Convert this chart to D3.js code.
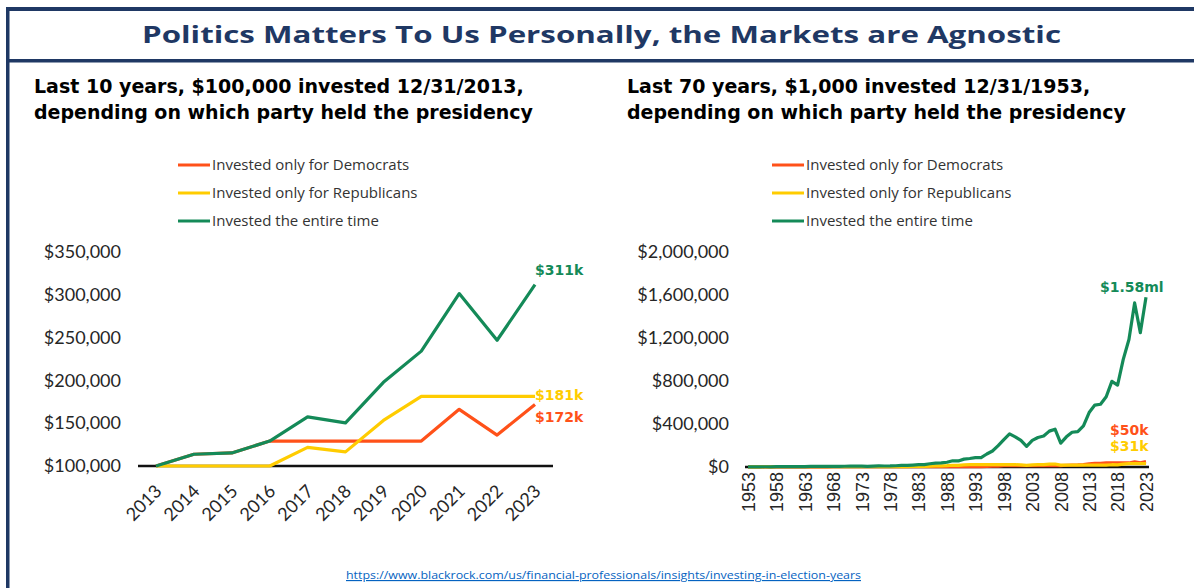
<!DOCTYPE html>
<html>
<head>
<meta charset="utf-8">
<script src="https://cdn.jsdelivr.net/npm/d3@7"></script>
<style>
body { margin: 0; background: #fff; }
svg { display: block; }
.ylab text { font-family: Lato, sans-serif; font-size: 18px; fill: #262626; }
.xlab text { fill: #262626; }
</style>
</head>
<body>
<svg width="1194" height="588"></svg>
<script>
// ---- data ----
var seriesNames = ["Invested only for Democrats", "Invested only for Republicans", "Invested the entire time"];
var seriesColors = ["#ff5119", "#ffcc00", "#148a58"];

// last 10 years
var yearsShort = [2013, 2014, 2015, 2016, 2017, 2018, 2019, 2020, 2021, 2022, 2023];
var demShort = [100000, 113700, 115300, 129100, 129100, 129100, 129100, 129100, 166200, 136100, 171900];
var repShort = [100000, 100000, 100000, 100000, 121800, 116500, 153200, 181400, 181400, 181400, 181400];
var allShort = [100000, 113700, 115300, 129100, 157300, 150400, 197800, 234200, 301400, 246900, 311800];
var endLabelsShort = ["$172k", "$181k", "$311k"];
var yTicksShort = [100000, 150000, 200000, 250000, 300000, 350000];

// last 70 years
var yearsLong = d3.range(1953, 2024);
var demLong = [1000, 1000, 1000, 1000, 1000, 1000, 1000, 1000,
  1269, 1159, 1423, 1657, 1865, 1676, 2079, 2309,
  2309, 2309, 2309, 2309, 2309, 2309, 2309, 2309,
  2143, 2284, 2705, 3581,
  3581, 3581, 3581, 3581, 3581, 3581, 3581, 3581, 3581, 3581, 3581, 3581,
  3943, 3994, 5496, 6760, 9018, 11597, 14032, 12755,
  12755, 12755, 12755, 12755, 12755, 12755, 12755, 12755,
  16135, 18571, 18961, 21995, 29121, 33111, 33575, 37604,
  37604, 37604, 37604, 37604,
  48396, 39636, 50060];
var repLong = [1000, 1526, 2008, 2141, 1910, 2738, 3067, 3082,
  3082, 3082, 3082, 3082, 3082, 3082, 3082, 3082,
  2820, 2933, 3352, 3989, 3403, 2501, 3432, 4248,
  4248, 4248, 4248, 4248,
  4040, 4904, 6008, 6387, 8443, 10005, 10526, 12294, 16167, 15666, 20444, 21997,
  21997, 21997, 21997, 21997, 21997, 21997, 21997, 21997,
  19379, 15097, 19430, 21548, 22604, 26175, 27615, 17397,
  17397, 17397, 17397, 17397, 17397, 17397, 17397, 17397,
  21190, 20257, 26638, 31539,
  31539, 31539, 31539];
var allLong = [1000, 1526, 2008, 2140, 1909, 2738, 3066, 3081, 3910, 3570,
  4384, 5107, 5745, 5165, 6405, 7116, 6511, 6772, 7740, 9211,
  7857, 5775, 7923, 9809, 9103, 9704, 11489, 15212, 14466, 17562,
  21513, 22868, 30232, 35825, 37688, 44020, 57886, 56092, 73200, 78763,
  86718, 87845, 120875, 148676, 198334, 255057, 308619, 280535, 247151, 192531,
  247787, 274796, 288261, 333806, 352165, 221864, 280658, 323038, 329822, 382594,
  506554, 575952, 584015, 654097, 796690, 761636, 1001551, 1185836, 1526171, 1249934,
  1578667];
var endLabelsLong = ["$50k", "$31k", "$1.58ml"];
var yTicksLong = [0, 400000, 800000, 1200000, 1600000, 2000000];
var xTicksLong = [1953, 1958, 1963, 1968, 1973, 1978, 1983, 1988, 1993, 1998, 2003, 2008, 2013, 2018, 2023];

var svg = d3.select("svg"),
    width = +svg.attr("width"),
    height = +svg.attr("height");

var navy = "#1f3864";

// frame
svg.append("rect").attr("x", 6).attr("y", 7).attr("width", 3.5).attr("height", height).attr("fill", navy);
svg.append("rect").attr("x", 6).attr("y", 7).attr("width", width).attr("height", 4).attr("fill", navy);
svg.append("rect").attr("x", 6).attr("y", 59).attr("width", width).attr("height", 3.5).attr("fill", navy);

svg.append("text")
  .attr("x", 142).attr("y", 43)
  .attr("font-family", "'Open Sans', sans-serif")
  .attr("font-weight", 700)
  .attr("font-size", 23)
  .attr("textLength", 919)
  .attr("lengthAdjust", "spacingAndGlyphs")
  .attr("fill", navy)
  .text("Politics Matters To Us Personally, the Markets are Agnostic");

var fmt = d3.format("$,");

function drawPanel(opt) {
  var g = svg.append("g");

  // subtitle
  opt.subtitle.forEach(function(s, i) {
    g.append("text")
      .attr("x", opt.subX).attr("y", 93 + i * 26)
      .attr("font-family", "'DejaVu Sans', sans-serif")
      .attr("font-weight", 700)
      .attr("font-size", 19)
      .attr("fill", "#000")
      .text(s);
  });

  // legend
  var leg = g.selectAll(".leg").data(seriesNames).enter().append("g")
    .attr("transform", function(d, i) { return "translate(" + opt.legX + "," + (165 + i * 28) + ")"; });
  leg.append("line").attr("x1", 0).attr("x2", 32)
    .attr("stroke", function(d, i) { return seriesColors[i]; })
    .attr("stroke-width", 3);
  leg.append("text").attr("x", 34).attr("dy", "0.35em")
    .attr("font-family", "'Open Sans', sans-serif")
    .attr("font-size", 15)
    .attr("fill", "#333")
    .text(function(d) { return d; });

  var x = d3.scaleLinear().domain(opt.xDomain).range(opt.xRange);
  var y = d3.scaleLinear().domain(opt.yDomain).range([opt.y0, 252]);

  // y axis labels
  g.append("g").attr("class", "ylab")
    .attr("transform", "translate(" + opt.axisX + ",0)")
    .call(d3.axisLeft(y).tickValues(opt.yTicks).tickSize(0).tickPadding(opt.pad).tickFormat(fmt))
    .call(function(a) { a.select(".domain").remove(); });

  // baseline
  g.append("line")
    .attr("x1", opt.axisX).attr("x2", opt.axisEnd)
    .attr("y1", y(opt.yDomain[0])).attr("y2", y(opt.yDomain[0]))
    .attr("stroke", "#111").attr("stroke-width", 2.5);

  // x axis labels
  var xa = g.append("g").attr("class", "xlab")
    .attr("transform", "translate(0," + y(opt.yDomain[0]) + ")")
    .call(d3.axisBottom(x).tickValues(opt.xTicks).tickSize(0).tickFormat(d3.format("d")));
  xa.select(".domain").remove();
  opt.styleX(xa.selectAll("text"));

  // lines
  var line = d3.line()
    .x(function(d, i) { return x(opt.years[i]); })
    .y(function(d) { return y(d); });
  opt.series.forEach(function(s, i) {
    g.append("path")
      .datum(s)
      .attr("fill", "none")
      .attr("stroke", seriesColors[i])
      .attr("stroke-width", 3.2)
      .attr("stroke-linejoin", "round")
      .attr("d", line);
  });

  // end labels
  opt.endLabels.forEach(function(t, i) {
    g.append("text")
      .attr("x", opt.labelX[i]).attr("y", opt.labelY[i])
      .attr("dy", "0.35em")
      .attr("font-family", "'DejaVu Sans', sans-serif")
      .attr("font-weight", 700)
      .attr("font-size", 14)
      .attr("fill", seriesColors[i])
      .text(t);
  });
}

drawPanel({
  subtitle: ["Last 10 years, $100,000 invested 12/31/2013,", "depending on which party held the presidency"],
  subX: 34, legX: 178,
  years: yearsShort, series: [demShort, repShort, allShort],
  xDomain: [2013, 2023], xRange: [156, 535], xTicks: yearsShort,
  yDomain: [100000, 350000], y0: 466, yTicks: yTicksShort,
  axisX: 138, axisEnd: 553, pad: 17,
  endLabels: endLabelsShort, labelX: [535, 535, 535], labelY: [417, 395, 270],
  styleX: function(t) {
    t.attr("font-family", "Lato, sans-serif").attr("font-size", 18)
      .attr("text-anchor", "end")
      .attr("transform", "translate(2,22) rotate(-45)")
      .attr("dy", "0.35em").attr("y", 0).attr("x", 0);
  }
});

drawPanel({
  subtitle: ["Last 70 years, $1,000 invested 12/31/1953,", "depending on which party held the presidency"],
  subX: 627, legX: 772,
  years: yearsLong, series: [demLong, repLong, allLong],
  xDomain: [1953, 2023], xRange: [748, 1146], xTicks: xTicksLong,
  yDomain: [0, 2000000], y0: 467, yTicks: yTicksLong,
  axisX: 745, axisEnd: 1149, pad: 16,
  endLabels: endLabelsLong, labelX: [1110, 1110, 1100], labelY: [430, 446, 287],
  styleX: function(t) {
    t.attr("font-family", "'Liberation Sans', sans-serif").attr("font-size", 18)
      .attr("text-anchor", "end")
      .attr("transform", "rotate(-90)")
      .attr("x", -5).attr("y", 0).attr("dy", "0.35em");
  }
});

// source link
svg.append("text")
  .attr("x", 346).attr("y", 579)
  .attr("font-family", "'Open Sans', sans-serif")
  .attr("font-size", 11.5)
  .attr("textLength", 515)
  .attr("lengthAdjust", "spacingAndGlyphs")
  .attr("fill", "#0563c1")
  .attr("text-decoration", "underline")
  .text("https://www.blackrock.com/us/financial-professionals/insights/investing-in-election-years");
</script>
</body>
</html>
